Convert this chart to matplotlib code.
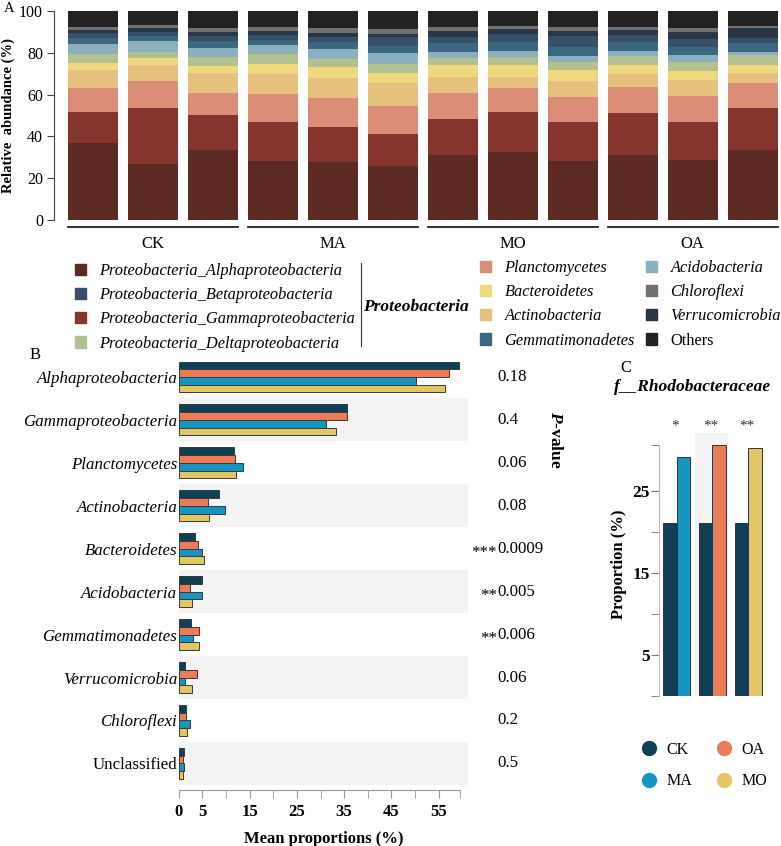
import numpy as np
import matplotlib
matplotlib.use('Agg')
import matplotlib.pyplot as plt
from matplotlib.patches import Patch
from matplotlib.lines import Line2D

plt.rcParams['font.family'] = ['Liberation Serif', 'DejaVu Serif']
plt.rcParams['mathtext.fontset'] = 'custom'
plt.rcParams['mathtext.it'] = 'Liberation Serif:italic:bold'
plt.rcParams['mathtext.rm'] = 'Liberation Serif:bold'

# ---------- panel A: relative abundance per sample (%) ----------
samples = ['CK1', 'CK2', 'CK3', 'MA1', 'MA2', 'MA3', 'MO1', 'MO2', 'MO3', 'OA1', 'OA2', 'OA3']
groups = ['CK', 'MA', 'MO', 'OA']
alpha = [36.7, 27.0, 33.3, 28.2, 27.8, 25.7, 31.1, 32.7, 28.2, 31.1, 28.7, 33.3]
gamma = [14.8, 26.6, 16.9, 18.7, 16.7, 15.6, 17.2, 19.0, 18.5, 20.3, 18.0, 20.4]
plancto = [11.8, 12.9, 10.4, 13.4, 14.0, 13.2, 12.6, 11.6, 12.3, 12.2, 12.6, 11.7]
actino = [8.6, 7.8, 9.7, 9.6, 9.4, 11.2, 7.4, 5.1, 7.5, 6.3, 7.7, 4.8]
bactero = [3.4, 3.4, 3.4, 4.6, 5.3, 4.8, 5.7, 5.8, 5.3, 4.1, 4.1, 4.0]
delta = [4.0, 2.8, 4.4, 4.8, 3.7, 4.0, 3.7, 3.6, 3.6, 4.6, 4.7, 4.6]
acido = [4.7, 5.3, 4.4, 4.3, 4.8, 5.6, 2.5, 3.2, 3.1, 2.1, 3.0, 1.4]
gemma = [2.9, 2.2, 3.0, 2.5, 3.6, 3.2, 4.6, 4.3, 4.4, 4.6, 4.1, 4.3]
beta = [2.4, 2.1, 2.5, 2.4, 2.4, 4.1, 2.6, 3.5, 5.1, 3.2, 3.5, 2.4]
verruco = [1.6, 1.9, 2.0, 1.9, 1.9, 1.4, 3.0, 2.4, 2.6, 2.4, 3.7, 5.1]
chloro = [1.6, 1.5, 1.7, 1.9, 2.3, 2.6, 2.1, 1.6, 1.9, 1.6, 1.9, 1.0]
others = [7.5, 6.5, 8.3, 7.7, 8.1, 8.6, 7.5, 7.2, 7.5, 7.5, 8.0, 7.0]

C_ALPHA, C_BETA, C_GAMMA, C_DELTA = '#5c2a23', '#374f68', '#86342e', '#b3c190'
C_PLANC, C_BACT, C_ACTI, C_GEMM = '#dc8d77', '#efd97e', '#e6c07d', '#3b6781'
C_ACID, C_CHLO, C_VERR, C_OTH = '#8ab0bd', '#707070', '#2a3644', '#222222'

stack = [alpha, gamma, plancto, actino, bactero, delta, acido, gemma, beta, verruco, chloro, others]
stack_cols = [C_ALPHA, C_GAMMA, C_PLANC, C_ACTI, C_BACT, C_DELTA, C_ACID, C_GEMM, C_BETA, C_VERR, C_CHLO, C_OTH]

# ---------- panel B: mean proportions (%) ----------
b_taxa = ['Alphaproteobacteria', 'Gammaproteobacteria', 'Planctomycetes', 'Actinobacteria',
          'Bacteroidetes', 'Acidobacteria', 'Gemmatimonadetes', 'Verrucomicrobia',
          'Chloroflexi', 'Unclassified']
ck_mean = [59.4, 35.5, 11.8, 8.6, 3.4, 4.9, 2.7, 1.3, 1.6, 1.1]
oa_mean = [57.2, 35.6, 12.0, 6.3, 4.0, 2.3, 4.3, 3.8, 1.5, 1.0]
ma_mean = [50.1, 31.1, 13.5, 9.9, 4.9, 4.9, 3.0, 1.4, 2.3, 1.1]
mo_mean = [56.3, 33.2, 12.2, 6.5, 5.4, 2.9, 4.4, 2.9, 1.8, 1.0]
p_values = ['0.18', '0.4', '0.06', '0.08', '0.0009', '0.005', '0.006', '0.06', '0.2', '0.5']
p_stars = ['', '', '', '', '***', '**', '**', '', '', '']

# ---------- panel C: f__Rhodobacteraceae ----------
c_groups = ['MA', 'OA', 'MO']
c_ck = [21.1, 21.1, 21.1]
c_trt = [29.2, 30.6, 30.3]
c_stars = ['*', '**', '**']

CK_C, OA_C, MA_C, MO_C = '#0f3e55', '#ec7b57', '#1596c0', '#e4c565'
trt_cols = {'MA': MA_C, 'OA': OA_C, 'MO': MO_C}

W, H = 781, 846
fig = plt.figure(figsize=(W / 100, H / 100), dpi=100)


def box(l, t, r, b):
    return [l / W, 1 - b / H, (r - l) / W, (b - t) / H]


def fx(px):
    return px / W


def fy(py):
    return 1 - py / H


# ===== A =====
ax_a = fig.add_axes(box(54, 11, 780, 220))
xs = np.arange(len(samples))
bottom = np.zeros(len(samples))
for vals, col in zip(stack, stack_cols):
    ax_a.bar(xs, vals, 0.833, bottom=bottom, color=col, edgecolor='none')
    bottom += np.array(vals)
ax_a.set_xlim(-0.645, 11.455)
ax_a.set_ylim(0, 100)
for s in ['top', 'right', 'bottom']:
    ax_a.spines[s].set_visible(False)
ax_a.spines['left'].set_color('#444444')
ax_a.set_xticks([])
ax_a.set_yticks([0, 20, 40, 60, 80, 100])
ax_a.tick_params(axis='y', labelsize=11.5, length=5, color='#444444', pad=3)
ax_a.set_ylabel('Relative  abundance (%)', fontsize=10.5, fontweight='bold', labelpad=3)
for g, name in enumerate(groups):
    x0, x1 = 3 * g - 0.417, 3 * g + 2.417
    ax_a.plot([x0, x1], [-3.4, -3.4], color='#222222', lw=1.3, clip_on=False)
    ax_a.text(3 * g + 1, -11.5, name, ha='center', va='center', fontsize=12)
fig.text(fx(4), fy(9), 'A', fontsize=10.5, va='center')

# legend of panel A
ital = dict(family='Liberation Serif', style='italic', size=11.8)
leg_kw = dict(loc='upper left', frameon=False, handlelength=0.7, handleheight=0.7,
              handletextpad=0.8, labelspacing=0.5, borderpad=0, borderaxespad=0, prop=ital)
h1 = [Patch(color=c) for c in [C_ALPHA, C_BETA, C_GAMMA, C_DELTA]]
l1 = ['Proteobacteria_Alphaproteobacteria', 'Proteobacteria_Betaproteobacteria',
      'Proteobacteria_Gammaproteobacteria', 'Proteobacteria_Deltaproteobacteria']
fig.legend(h1, l1, bbox_to_anchor=(fx(75), fy(263)), **leg_kw)
h2 = [Patch(color=c) for c in [C_PLANC, C_BACT, C_ACTI, C_GEMM]]
l2 = ['Planctomycetes', 'Bacteroidetes', 'Actinobacteria', 'Gemmatimonadetes']
fig.legend(h2, l2, bbox_to_anchor=(fx(480), fy(260)), **leg_kw)
h3 = [Patch(color=c) for c in [C_ACID, C_CHLO, C_VERR, C_OTH]]
l3 = ['Acidobacteria', 'Chloroflexi', 'Verrucomicrobia', 'Others']
leg3 = fig.legend(h3, l3, bbox_to_anchor=(fx(646), fy(260)), **leg_kw)
leg3.get_texts()[3].set_fontstyle('normal')
fig.add_artist(Line2D([fx(361), fx(361)], [fy(263), fy(346)], color='#333333', lw=0.8))
fig.text(fx(363), fy(307), 'Proteobacteria', fontsize=12.5, fontweight='bold',
         style='italic', va='center')

# ===== B =====
ax_b = fig.add_axes(box(178.7, 355.5, 468, 790))
rows = np.arange(len(b_taxa))
offs = [-0.27, -0.09, 0.09, 0.27]
for k, (vals, col) in enumerate(zip([ck_mean, oa_mean, ma_mean, mo_mean],
                                    [CK_C, OA_C, MA_C, MO_C])):
    ax_b.barh(rows + offs[k], vals, height=0.18, color=col, edgecolor='#3a3a3a',
              lw=0.7, zorder=2)
for i in rows:
    if i % 2 == 1:
        ax_b.axhspan(i - 0.5, i + 0.5, color='#f3f3f3', lw=0, zorder=0)
ax_b.set_ylim(9.62, -0.5)
ax_b.set_xlim(0, 61.2)
for s in ['top', 'right', 'left']:
    ax_b.spines[s].set_visible(False)
ax_b.spines['bottom'].set_color('#999999')
ax_b.spines['bottom'].set_bounds(0, 59.5)
ax_b.set_yticks(rows)
ax_b.set_yticklabels(b_taxa, fontsize=12.2)
for t in ax_b.get_yticklabels():
    if t.get_text() != 'Unclassified':
        t.set_fontstyle('italic')
ax_b.tick_params(axis='y', length=0, pad=1)
ax_b.set_xticks([0, 5, 15, 25, 35, 45, 55])
ax_b.set_xticks([10, 20, 30, 40, 50, 59.5], minor=True)
ax_b.set_xticklabels(['0', '5', '15', '25', '35', '45', '55'], fontsize=12, fontweight='bold')
ax_b.tick_params(axis='x', which='both', length=6, color='#999999', pad=4)
ax_b.set_xlabel('Mean proportions (%)', fontsize=12, fontweight='bold', labelpad=8)
ytr = ax_b.get_yaxis_transform()
for i, (pv, st) in enumerate(zip(p_values, p_stars)):
    ax_b.text(1.1, i, pv, transform=ytr, ha='left', va='center', fontsize=12.2, clip_on=False)
    if st:
        ax_b.text(1.1, i + 0.1, st, transform=ytr, ha='right', va='center', fontsize=12.2,
                  clip_on=False)
fig.text(fx(555), fy(440), r'$P$-value', rotation=270, fontsize=12.5, fontweight='bold',
         ha='center', va='center')
fig.text(fx(30), fy(355), 'B', fontsize=12, va='center')

# ===== C =====
ax_c = fig.add_axes(box(659.3, 433, 764.4, 696))
gx = np.arange(len(c_groups))
ax_c.axvspan(0.51, 1.44, color='#f3f3f3', lw=0, zorder=0)
ax_c.bar(gx - 0.186, c_ck, 0.372, color=CK_C, edgecolor='#333333', lw=0.7, zorder=2)
ax_c.bar(gx + 0.186, c_trt, 0.372, color=[trt_cols[g] for g in c_groups],
         edgecolor='#333333', lw=0.7, zorder=2)
ax_c.set_xlim(-0.486, 2.45)
ax_c.set_ylim(0, 32.1)
for s in ['top', 'right', 'bottom']:
    ax_c.spines[s].set_visible(False)
ax_c.spines['left'].set_color('#bbbbbb')
ax_c.spines['left'].set_bounds(0, 30.6)
ax_c.set_xticks([])
ax_c.set_yticks([5, 15, 25])
ax_c.set_yticks([0, 10, 20, 30.6], minor=True)
ax_c.set_yticklabels(['5', '15', '25'], fontsize=12.5, fontweight='bold')
ax_c.tick_params(axis='y', which='both', length=6, color='#777777', pad=1)
ax_c.set_ylabel('Proportion (%)', fontsize=12, fontweight='bold', labelpad=4)
for g, st in enumerate(c_stars):
    ax_c.text(g - 0.05, 32.9, st, ha='center', va='center', fontsize=11, color='#333333',
              clip_on=False)
fig.text(fx(692), fy(387), 'f__Rhodobacteraceae', fontsize=12.5, fontweight='bold',
         style='italic', ha='center', va='center')
fig.text(fx(620), fy(368), 'C', fontsize=12, va='center')

hc = [Line2D([], [], ls='', marker='o', markersize=10, color=c) for c in [CK_C, MA_C, OA_C, MO_C]]
fig.legend(hc, ['CK', 'MA', 'OA', 'MO'], ncol=2, loc='upper left',
           bbox_to_anchor=(fx(641), fy(742)), frameon=False, fontsize=11.5,
           handlelength=1.0, handletextpad=0.6, columnspacing=1.5, labelspacing=0.95,
           borderpad=0, borderaxespad=0)

fig.savefig('out.png', dpi=100)
